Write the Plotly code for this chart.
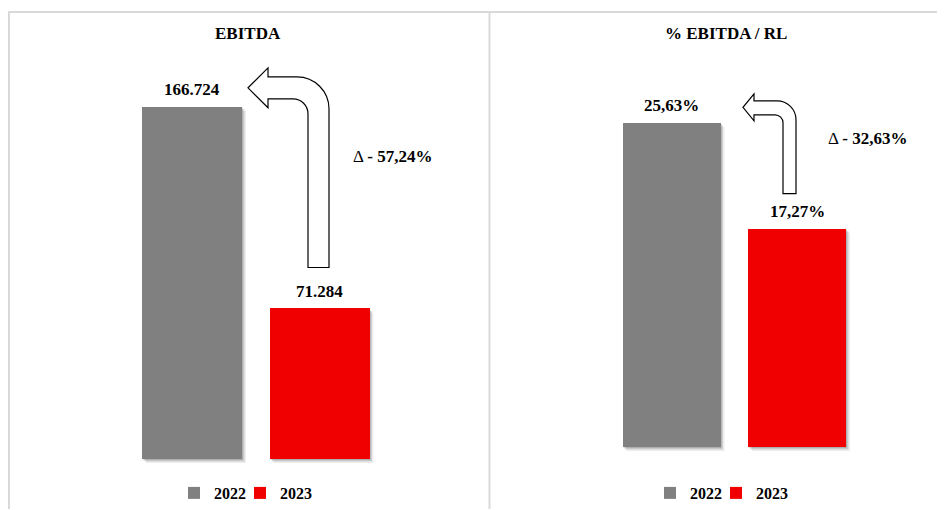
import plotly.graph_objects as go

# ---------------- data ----------------
years = ["2022", "2023"]
ebitda = [166724, 71284]
ebitda_margin_pct = [25.63, 17.27]
delta_pct = [-57.24, -32.63]
titles = ["EBITDA", "% EBITDA / RL"]
bar_colors = ["#808080", "#F00000"]

# ---------------- layout helpers ----------------
VIEW_W, VIEW_H = 945, 510
OFF = 8  # page body margin
W, H = VIEW_W - OFF, VIEW_H - OFF
FONT = "Liberation Serif, Times New Roman, serif"


def fmt_int(v):
    return f"{v:,.0f}".replace(",", ".")


def fmt_pct(v):
    return f"{v:.2f}".replace(".", ",") + "%"


def px(x):
    return (x - OFF) / W


def py(y):
    return 1 - (y - OFF) / H


panels = [
    dict(values=ebitda, labels=[fmt_int(v) for v in ebitda],
         x0=8, x1=489, c0=192, step=127.5, bw=100,
         base=460, top=13, ppu=353 / 166724,
         title_xy=(248, 34), delta_xy=(392, 157), legend_xs=[174, 240],
         arrow=dict(xL=308, xR=329, yB=268, yT=77, yb=99, hx=268,
                    hTop=68, hBot=108, tipx=248, tipy=88, Ro=32, Ri=15)),
    dict(values=ebitda_margin_pct, labels=[fmt_pct(v) for v in ebitda_margin_pct],
         x0=489, x1=945, c0=671.5, step=125.5, bw=98,
         base=448, top=13, ppu=325 / 25.63,
         title_xy=(726, 34), delta_xy=(867.5, 138.5), legend_xs=[650, 716],
         arrow=dict(xL=783, xR=796, yB=194, yT=101, yb=115, hx=754,
                    hTop=94, hBot=121, tipx=743, tipy=107.5, Ro=19, Ri=8)),
]


def arrow_path(a):
    k = 0.5523
    xL, xR, yB, yT, yb = a["xL"], a["xR"], a["yB"], a["yT"], a["yb"]
    Ro, Ri = a["Ro"], a["Ri"]

    def P(x, y):
        return f"{px(x):.5f},{py(y):.5f}"

    d = (
        f"M{P(xR, yB)} L{P(xR, yT + Ro)} "
        f"C{P(xR, yT + Ro - k * Ro)} {P(xR - Ro + k * Ro, yT)} {P(xR - Ro, yT)} "
        f"L{P(a['hx'], yT)} L{P(a['hx'], a['hTop'])} L{P(a['tipx'], a['tipy'])} "
        f"L{P(a['hx'], a['hBot'])} L{P(a['hx'], yb)} L{P(xL - Ri, yb)} "
        f"C{P(xL - Ri + k * Ri, yb)} {P(xL, yb + Ri - k * Ri)} {P(xL, yb + Ri)} "
        f"L{P(xL, yB)} Z"
    )
    return d


fig = go.Figure()
shapes = []
annotations = []
layout_axes = {}
legends = {}

legend_common = dict(
    orientation="h", xanchor="left", yanchor="middle", y=py(494),
    font=dict(family=FONT, size=16, color="#000000", weight="bold"),
    bgcolor="rgba(0,0,0,0)", itemwidth=30,
    itemclick=False, itemdoubleclick=False,
)

legend_idx = 0
for p_i, p in enumerate(panels):
    sfx = "" if p_i == 0 else str(p_i + 1)
    xa, ya = "x" + sfx, "y" + sfx
    bw_units = p["bw"] / p["step"]
    ppu = p["ppu"]
    bottom_pad = 6  # pixels below baseline for shadow

    for i, (yr, v) in enumerate(zip(years, p["values"])):
        legend_idx += 1
        lname = "legend" if legend_idx == 1 else f"legend{legend_idx}"
        legends[lname] = dict(x=px(p["legend_xs"][i]), **legend_common)
        fig.add_trace(go.Bar(
            x=[i], y=[v], width=[bw_units], name=yr,
            marker=dict(color=bar_colors[i], line=dict(width=0)),
            xaxis=xa, yaxis=ya, legend=lname, showlegend=True,
            hovertemplate=f"{yr}: {p['labels'][i]}<extra></extra>",
        ))
        # soft shadow derived from the bar's own geometry
        for off, alpha in ((4, 0.07), (2.5, 0.12), (1.2, 0.16)):
            dxu = off / p["step"]
            dyu = off / ppu
            shapes.append(dict(
                type="rect", xref=xa, yref=ya, layer="below",
                x0=i - bw_units / 2 + dxu, x1=i + bw_units / 2 + dxu,
                y0=-dyu, y1=v - dyu,
                fillcolor=f"rgba(0,0,0,{alpha})", line=dict(width=0),
            ))
        annotations.append(dict(
            x=i, y=v, xref=xa, yref=ya, text=f"<b>{p['labels'][i]}</b>",
            showarrow=False, yanchor="middle", yshift=17,
            font=dict(family=FONT, size=17, color="#000000"),
        ))

    xr = [-(p["c0"] - p["x0"]) / p["step"], (p["x1"] - p["c0"]) / p["step"]]
    yr_ = [-bottom_pad / ppu, (p["base"] - p["top"]) / ppu]
    layout_axes["xaxis" + sfx] = dict(
        domain=[max(0, px(p["x0"])), min(1, px(p["x1"]))], range=xr, anchor=ya,
        visible=False, fixedrange=True)
    layout_axes["yaxis" + sfx] = dict(
        domain=[py(p["base"] + bottom_pad), py(p["top"])], range=yr_, anchor=xa,
        visible=False, fixedrange=True)

    # title
    annotations.append(dict(
        x=px(p["title_xy"][0]), y=py(p["title_xy"][1]), xref="paper", yref="paper",
        text=f"<b>{titles[p_i]}</b>", showarrow=False,
        xanchor="center", yanchor="middle",
        font=dict(family=FONT, size=17, color="#000000"),
    ))
    # delta label
    d_txt = f"{abs(delta_pct[p_i]):.2f}".replace(".", ",") + "%"
    annotations.append(dict(
        x=px(p["delta_xy"][0]), y=py(p["delta_xy"][1]), xref="paper", yref="paper",
        text=f"Δ <b>- {d_txt}</b>", showarrow=False,
        xanchor="center", yanchor="middle",
        font=dict(family=FONT, size=17, color="#000000"),
    ))
    # curved arrow
    shapes.append(dict(
        type="path", xref="paper", yref="paper", layer="above",
        path=arrow_path(p["arrow"]), fillcolor="#FFFFFF",
        line=dict(color="#000000", width=1.2),
    ))

# table-like frame
frame_col = "#D9D9D9"
shapes += [
    dict(type="line", xref="paper", yref="paper", x0=px(9), x1=px(9),
         y0=py(12), y1=py(VIEW_H), line=dict(color=frame_col, width=2), layer="above"),
    dict(type="line", xref="paper", yref="paper", x0=px(8), x1=px(VIEW_W),
         y0=py(12), y1=py(12), line=dict(color=frame_col, width=2), layer="above"),
    dict(type="line", xref="paper", yref="paper", x0=px(489.5), x1=px(489.5),
         y0=py(12), y1=py(VIEW_H), line=dict(color=frame_col, width=2), layer="above"),
]

fig.update_layout(
    width=W, height=H,
    margin=dict(l=0, r=0, t=0, b=0),
    paper_bgcolor="#FFFFFF", plot_bgcolor="rgba(0,0,0,0)",
    barmode="overlay", bargap=0,
    shapes=shapes, annotations=annotations,
    font=dict(family=FONT),
    **legends,
    **layout_axes,
)

fig.write_html("out.html")
